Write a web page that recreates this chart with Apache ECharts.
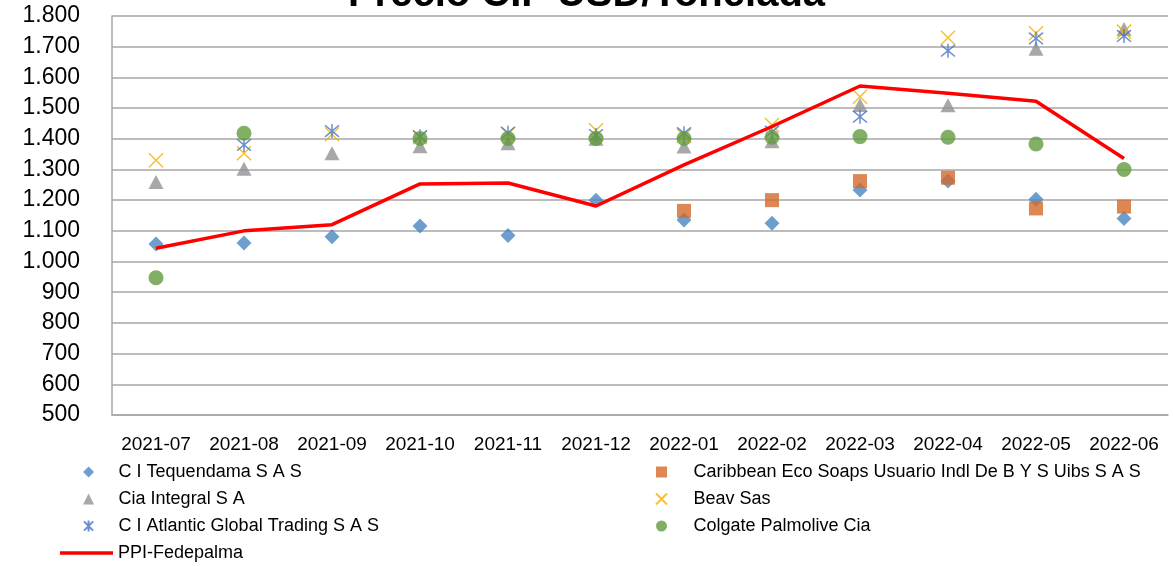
<!DOCTYPE html>
<html>
<head>
<meta charset="utf-8">
<script src="https://cdn.jsdelivr.net/npm/echarts@6/dist/echarts.min.js"></script>
<style>
  html, body { margin: 0; padding: 0; background: #fff; }
  #chart { width: 1173px; height: 567px; }
</style>
</head>
<body>
<div id="chart"></div>
<script>
// months on the x axis
const months = ['2021-07', '2021-08', '2021-09', '2021-10', '2021-11', '2021-12',
    '2022-01', '2022-02', '2022-03', '2022-04', '2022-05', '2022-06'];

// CIF price per buyer, USD / t (null = no purchase that month)
const tequendama = [1057, 1060, 1081, 1116, 1085, 1200, 1135, 1125, 1233, 1262, 1203, 1140];
const caribbean = [null, null, null, null, null, null, 1165, 1200, 1262, 1273, 1173, 1179];
const ciaIntegral = [1259, 1302, 1353, 1376, 1385, 1400, 1375, 1392, 1510, 1509, 1693, 1758];
const beav = [1330, 1353, 1415, 1405, 1415, 1428, 1410, 1445, 1537, 1729, 1744, 1749];
const atlantic = [null, 1380, 1425, 1408, 1420, 1412, 1418, 1423, 1472, 1687, 1727, 1735];
const colgate = [947, 1418, null, 1401, 1401, 1401, 1401, 1405, 1407, 1405, 1383, 1300];
const ppiFedepalma = [1043, 1100, 1120, 1253, 1256, 1181, 1315, 1440, 1572, 1548, 1522, 1336];

const font = 'Liberation Sans';
const crossPath = 'path://M0,0L10,10M10,0L0,10';
const starPath = 'path://M0,0L10,10M10,0L0,10M5,-1L5,11';

function fmt(v) {
    // 1800 -> "1.800"
    return String(v).replace(/\B(?=(\d{3})+(?!\d))/g, '.');
}

function scatter(name, data, symbol, size, color, stroked) {
    let s = {
        name: name,
        type: 'scatter',
        data: data,
        symbol: symbol,
        symbolSize: size,
        itemStyle: { color: color },
        z: 3
    };
    if (stroked) {
        s.itemStyle = { color: 'none', borderColor: color, borderWidth: 1.5 };
    }
    return s;
}

function legendText(pad) {
    return { fontFamily: font, fontSize: 18, lineHeight: 20, color: '#000', padding: [0, 0, 0, pad] };
}

var myChart = echarts.init(document.getElementById('chart'));
myChart.setOption({
    animation: false,
    title: {
        text: 'Precio CIF USD/Tonelada',
        left: 'center',
        top: -30,
        textStyle: { fontFamily: font, fontSize: 40, fontWeight: 'bold', color: '#000' }
    },
    grid: { left: 112, right: 5, top: 16, bottom: 152 },
    legend: [{
        data: ['C I Tequendama S A S', 'Cia Integral S A', 'C I Atlantic Global Trading S A S'],
        orient: 'vertical',
        left: 81.5,
        top: 462,
        height: 100,
        padding: 0,
        itemWidth: 11,
        itemHeight: 11,
        itemGap: 7,
        textStyle: legendText(19.5)
    }, {
        data: [{ name: 'PPI-Fedepalma', icon: 'rect' }],
        orient: 'vertical',
        left: 60,
        top: 543,
        padding: 0,
        itemWidth: 53,
        itemHeight: 3.5,
        textStyle: legendText(0)
    }, {
        data: ['Caribbean Eco Soaps Usuario Indl De B Y S Uibs S A S', 'Beav Sas', 'Colgate Palmolive Cia'],
        orient: 'vertical',
        left: 653.5,
        top: 462,
        height: 100,
        padding: 0,
        itemWidth: 11,
        itemHeight: 11,
        itemGap: 7,
        textStyle: legendText(21.5)
    }],
    xAxis: {
        type: 'category',
        data: months,
        boundaryGap: true,
        axisLine: { lineStyle: { color: '#a6a6a6', width: 1.5 } },
        axisTick: { show: false },
        axisLabel: { fontFamily: font, fontSize: 19, color: '#000', margin: 20, interval: 0 }
    },
    yAxis: {
        type: 'value',
        min: 500,
        max: 1800,
        interval: 100,
        axisLine: { show: true, lineStyle: { color: '#a6a6a6', width: 1.5 } },
        axisTick: { show: false },
        splitLine: { lineStyle: { color: '#a6a6a6', width: 1.5 } },
        axisLabel: { fontFamily: font, fontSize: 23, color: '#000', margin: 32, formatter: fmt }
    },
    series: [
        scatter('C I Tequendama S A S', tequendama, 'diamond', 15, '#4a86c2'),
        scatter('Caribbean Eco Soaps Usuario Indl De B Y S Uibs S A S', caribbean, 'rect', 14, '#d4692b'),
        scatter('Cia Integral S A', ciaIntegral, 'triangle', [15, 14], '#929292'),
        scatter('Beav Sas', beav, crossPath, 14, '#f2b200', true),
        scatter('C I Atlantic Global Trading S A S', atlantic, starPath, 14, '#4472c4', true),
        scatter('Colgate Palmolive Cia', colgate, 'circle', 15, '#629b3d'),
        {
            name: 'PPI-Fedepalma',
            type: 'line',
            data: ppiFedepalma,
            symbol: 'none',
            lineStyle: { color: '#ff0000', width: 3.5 },
            itemStyle: { color: '#ff0000' },
            z: 4
        }
    ]
});
</script>
</body>
</html>
